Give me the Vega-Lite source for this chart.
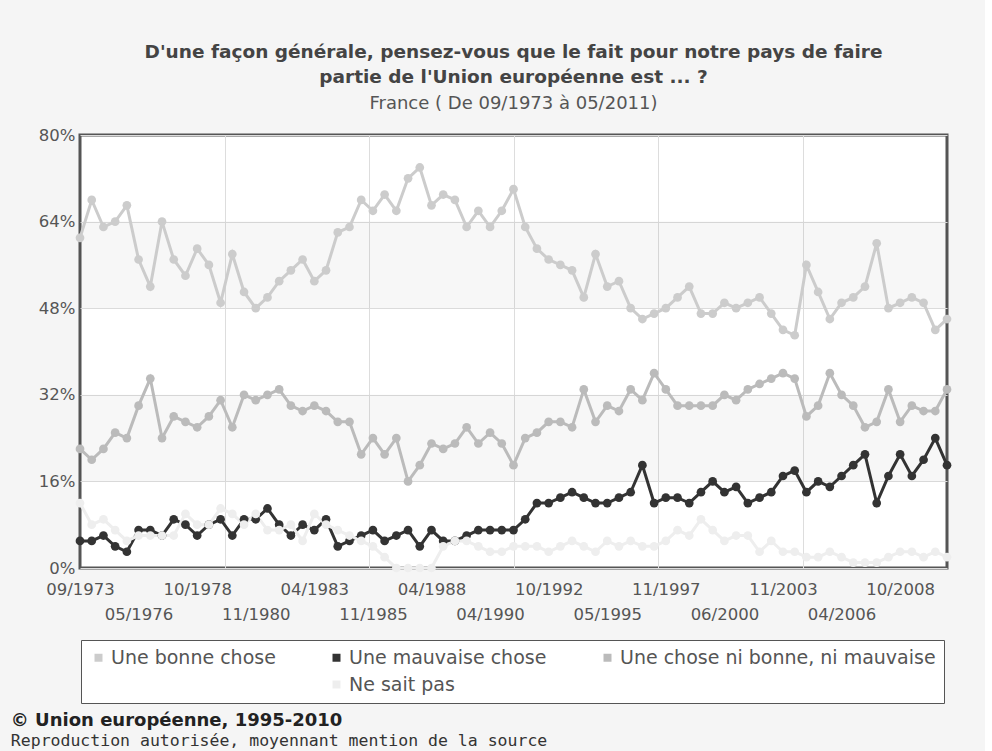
{
  "$schema": "https://vega.github.io/schema/vega-lite/v6.json",
  "background": "#f5f5f5",
  "padding": {"left": 10, "top": 41, "right": 30, "bottom": 2},
  "title": {
    "text": "© Union européenne, 1995-2010",
    "subtitle": "Reproduction autorisée, moyennant mention de la source",
    "orient": "bottom",
    "anchor": "start",
    "dx": -26,
    "offset": 8,
    "font": "DejaVu Sans",
    "fontSize": 18,
    "fontWeight": "bold",
    "color": "#222222",
    "subtitleFont": "DejaVu Sans Mono",
    "subtitleFontSize": 16.5,
    "subtitleColor": "#333333",
    "subtitlePadding": 3
  },
  "datasets": {
    "bands": [{"lo": 16, "hi": 32}, {"lo": 48, "hi": 64}],
    "eb": [
      {"d": "09/1973", "b": 61, "m": 5, "n": 22, "p": 12},
      {"d": "04/1974", "b": 68, "m": 5, "n": 20, "p": 8},
      {"d": "10/1974", "b": 63, "m": 6, "n": 22, "p": 9},
      {"d": "05/1975", "b": 64, "m": 4, "n": 25, "p": 7},
      {"d": "11/1975", "b": 67, "m": 3, "n": 24, "p": 5},
      {"d": "05/1976", "b": 57, "m": 7, "n": 30, "p": 6},
      {"d": "10/1976", "b": 52, "m": 7, "n": 35, "p": 6},
      {"d": "04/1977", "b": 64, "m": 6, "n": 24, "p": 6},
      {"d": "11/1977", "b": 57, "m": 9, "n": 28, "p": 6},
      {"d": "05/1978", "b": 54, "m": 8, "n": 27, "p": 10},
      {"d": "10/1978", "b": 59, "m": 6, "n": 26, "p": 8},
      {"d": "04/1979", "b": 56, "m": 8, "n": 28, "p": 8},
      {"d": "10/1979", "b": 49, "m": 9, "n": 31, "p": 11},
      {"d": "04/1980", "b": 58, "m": 6, "n": 26, "p": 10},
      {"d": "07/1980", "b": 51, "m": 9, "n": 32, "p": 8},
      {"d": "11/1980", "b": 48, "m": 9, "n": 31, "p": 10},
      {"d": "04/1981", "b": 50, "m": 11, "n": 32, "p": 7},
      {"d": "10/1981", "b": 53, "m": 8, "n": 33, "p": 7},
      {"d": "04/1982", "b": 55, "m": 6, "n": 30, "p": 8},
      {"d": "10/1982", "b": 57, "m": 8, "n": 29, "p": 5},
      {"d": "04/1983", "b": 53, "m": 7, "n": 30, "p": 10},
      {"d": "10/1983", "b": 55, "m": 9, "n": 29, "p": 8},
      {"d": "04/1984", "b": 62, "m": 4, "n": 27, "p": 7},
      {"d": "10/1984", "b": 63, "m": 5, "n": 27, "p": 6},
      {"d": "04/1985", "b": 68, "m": 6, "n": 21, "p": 5},
      {"d": "11/1985", "b": 66, "m": 7, "n": 24, "p": 4},
      {"d": "04/1986", "b": 69, "m": 5, "n": 21, "p": 2},
      {"d": "10/1986", "b": 66, "m": 6, "n": 24, "p": 0},
      {"d": "04/1987", "b": 72, "m": 7, "n": 16, "p": 0},
      {"d": "10/1987", "b": 74, "m": 4, "n": 19, "p": 0},
      {"d": "04/1988", "b": 67, "m": 7, "n": 23, "p": 0},
      {"d": "10/1988", "b": 69, "m": 5, "n": 22, "p": 4},
      {"d": "03/1989", "b": 68, "m": 5, "n": 23, "p": 5},
      {"d": "07/1989", "b": 63, "m": 6, "n": 26, "p": 5},
      {"d": "10/1989", "b": 66, "m": 7, "n": 23, "p": 4},
      {"d": "04/1990", "b": 63, "m": 7, "n": 25, "p": 3},
      {"d": "10/1990", "b": 66, "m": 7, "n": 23, "p": 3},
      {"d": "04/1991", "b": 70, "m": 7, "n": 19, "p": 4},
      {"d": "10/1991", "b": 63, "m": 9, "n": 24, "p": 4},
      {"d": "04/1992", "b": 59, "m": 12, "n": 25, "p": 4},
      {"d": "10/1992", "b": 57, "m": 12, "n": 27, "p": 3},
      {"d": "04/1993", "b": 56, "m": 13, "n": 27, "p": 4},
      {"d": "11/1993", "b": 55, "m": 14, "n": 26, "p": 5},
      {"d": "04/1994", "b": 50, "m": 13, "n": 33, "p": 4},
      {"d": "11/1994", "b": 58, "m": 12, "n": 27, "p": 3},
      {"d": "05/1995", "b": 52, "m": 12, "n": 30, "p": 5},
      {"d": "11/1995", "b": 53, "m": 13, "n": 29, "p": 4},
      {"d": "04/1996", "b": 48, "m": 14, "n": 33, "p": 5},
      {"d": "11/1996", "b": 46, "m": 19, "n": 31, "p": 4},
      {"d": "04/1997", "b": 47, "m": 12, "n": 36, "p": 4},
      {"d": "11/1997", "b": 48, "m": 13, "n": 33, "p": 5},
      {"d": "04/1998", "b": 50, "m": 13, "n": 30, "p": 7},
      {"d": "11/1998", "b": 52, "m": 12, "n": 30, "p": 6},
      {"d": "04/1999", "b": 47, "m": 14, "n": 30, "p": 9},
      {"d": "11/1999", "b": 47, "m": 16, "n": 30, "p": 7},
      {"d": "06/2000", "b": 49, "m": 14, "n": 32, "p": 5},
      {"d": "11/2000", "b": 48, "m": 15, "n": 31, "p": 6},
      {"d": "10/2001", "b": 49, "m": 12, "n": 33, "p": 6},
      {"d": "04/2002", "b": 50, "m": 13, "n": 34, "p": 3},
      {"d": "11/2002", "b": 47, "m": 14, "n": 35, "p": 5},
      {"d": "11/2003", "b": 44, "m": 17, "n": 36, "p": 3},
      {"d": "02/2004", "b": 43, "m": 18, "n": 35, "p": 3},
      {"d": "10/2004", "b": 56, "m": 14, "n": 28, "p": 2},
      {"d": "05/2005", "b": 51, "m": 16, "n": 30, "p": 2},
      {"d": "10/2005", "b": 46, "m": 15, "n": 36, "p": 3},
      {"d": "04/2006", "b": 49, "m": 17, "n": 32, "p": 2},
      {"d": "09/2006", "b": 50, "m": 19, "n": 30, "p": 1},
      {"d": "04/2007", "b": 52, "m": 21, "n": 26, "p": 1},
      {"d": "10/2007", "b": 60, "m": 12, "n": 27, "p": 1},
      {"d": "04/2008", "b": 48, "m": 17, "n": 33, "p": 2},
      {"d": "10/2008", "b": 49, "m": 21, "n": 27, "p": 3},
      {"d": "06/2009", "b": 50, "m": 17, "n": 30, "p": 3},
      {"d": "10/2009", "b": 49, "m": 20, "n": 29, "p": 2},
      {"d": "05/2010", "b": 44, "m": 24, "n": 29, "p": 3},
      {"d": "05/2011", "b": 46, "m": 19, "n": 33, "p": 2}
    ]
  },
  "vconcat": [
    {
      "width": 867,
      "height": 433,
      "title": {
        "text": ["D'une façon générale, pensez-vous que le fait pour notre pays de faire", "partie de l'Union européenne est ... ?"],
        "subtitle": "France ( De 09/1973 à 05/2011)",
        "anchor": "middle",
        "font": "DejaVu Sans",
        "fontSize": 18.5,
        "fontWeight": "bold",
        "color": "#444444",
        "lineHeight": 25,
        "subtitleFont": "DejaVu Sans",
        "subtitleFontSize": 18,
        "subtitleColor": "#555555",
        "subtitlePadding": 9,
        "offset": 14
      },
      "resolve": {"scale": {"x": "independent"}, "axis": {"x": "independent"}},
      "layer": [
        {
          "data": {"name": "bands"},
          "mark": {"type": "rect", "fill": "#000000", "opacity": 0.03},
          "encoding": {
            "x": {"datum": 0, "type": "quantitative", "scale": {"domain": [0, 6], "nice": false, "zero": false},
              "axis": {"orient": "top", "values": [1, 2, 3, 4, 5], "grid": true, "gridColor": "#dddddd", "labels": false, "ticks": false, "domain": false, "title": null}},
            "x2": {"datum": 6},
            "y": {"field": "lo", "type": "quantitative", "scale": {"domain": [0, 80], "nice": false},
              "axis": {"values": [0, 16, 32, 48, 64, 80], "labelExpr": "datum.value + '%'", "ticks": false, "domain": false, "gridColor": "#dddddd", "title": null, "labelPadding": 5}},
            "y2": {"field": "hi"}
          }
        },
        {
          "data": {"name": "eb"},
          "transform": [{"fold": ["b", "m", "n", "p"], "as": ["key", "val"]}],
          "encoding": {
            "x": {"field": "d", "type": "ordinal", "sort": null, "scale": {"type": "point", "padding": 0},
              "axis": {
                "values": ["09/1973", "05/1976", "10/1978", "11/1980", "04/1983", "11/1985", "04/1988", "04/1990", "10/1992", "05/1995", "11/1997", "06/2000", "11/2003", "04/2006", "10/2008"],
                "labelExpr": "indexof(['05/1976','11/1980','11/1985','04/1990','05/1995','06/2000','04/2006'], datum.value) >= 0 ? ['', datum.label] : datum.label",
                "ticks": false, "domain": false, "grid": false, "labelPadding": 13, "labelLineHeight": 25,
                "labelOverlap": false, "labelBaseline": "top", "labelAngle": 0, "title": null}},
            "y": {"field": "val", "type": "quantitative", "scale": {"domain": [0, 80], "nice": false},
              "axis": {"values": [0, 16, 32, 48, 64, 80], "labelExpr": "datum.value + '%'", "ticks": false, "domain": false, "gridColor": "#dddddd", "title": null, "labelPadding": 5}}
          },
          "layer": [
            {
              "mark": {"type": "line", "strokeWidth": 3},
              "encoding": {
                "stroke": {"field": "key", "type": "nominal",
                  "scale": {"domain": ["b", "m", "n", "p"], "range": ["#cccccc", "#333333", "#bbbbbb", "#eeeeee"]},
                  "legend": null}
              }
            },
            {
              "mark": {"type": "point", "filled": true, "size": 76, "opacity": 1, "strokeWidth": 0},
              "encoding": {
                "order": {"field": "key", "type": "ordinal"},
                "fill": {"field": "key", "type": "nominal",
                  "scale": {"domain": ["b", "m", "n", "x", "p"], "range": ["#cccccc", "#333333", "#bbbbbb", "rgba(0,0,0,0)", "#eeeeee"]},
                  "legend": {
                    "orient": "none", "legendX": 1, "legendY": 505, "direction": "horizontal", "columns": 3,
                    "title": null, "symbolType": "square", "symbolSize": 64, "symbolStrokeWidth": 0,
                    "labelFont": "DejaVu Sans", "labelFontSize": 19, "labelColor": "#555555", "labelOffset": 3, "labelLimit": 500,
                    "labelExpr": "datum.value == 'b' ? 'Une bonne chose' : datum.value == 'm' ? 'Une mauvaise chose' : datum.value == 'n' ? 'Une chose ni bonne, ni mauvaise' : datum.value == 'p' ? 'Ne sait pas' : ''",
                    "columnPadding": 51, "rowPadding": 7, "padding": 8,
                    "strokeColor": "#555555", "fillColor": "#ffffff"
                  }}
              }
            }
          ]
        }
      ]
    }
  ],
  "config": {
    "font": "DejaVu Sans",
    "view": {"stroke": "#555555", "strokeWidth": 3, "fill": "#ffffff"},
    "axis": {"labelFont": "DejaVu Sans", "labelFontSize": 16.5, "labelColor": "#555555"}
  }
}
